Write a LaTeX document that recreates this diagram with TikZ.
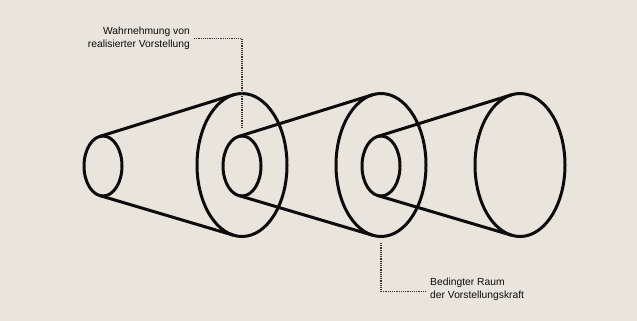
\documentclass[tikz,border=0pt]{standalone}
\usepackage{fontspec}
\setmainfont{Liberation Sans}
\usetikzlibrary{calc}
\usepackage{xcolor}
\definecolor{paper}{RGB}{233,229,220}
\definecolor{ink}{RGB}{12,12,12}
\definecolor{leadgray}{RGB}{50,50,50}

\begin{document}
\begin{tikzpicture}[x=1pt,y=-1pt,
    shape line/.style={draw=ink, line width=3pt},
    leader/.style={draw=leadgray, densely dotted, line width=1.2pt},
    note/.style={font=\fontsize{10.3}{13}\selectfont, text=ink, inner sep=4pt, align=left}]

        % Background
        \fill[paper] (0,0) rectangle (637,321);

        % Cones: small opening -> large opening
        \foreach \i/\sx/\bx in {1/103/242, 2/242/381, 3/381/520}
        {
            \coordinate (small\i) at (\sx,166);
            \coordinate (big\i) at (\bx,165);
            \draw[shape line] (small\i) ellipse [x radius=19, y radius=30];
            \draw[shape line] (big\i) ellipse [x radius=45, y radius=71.5];
            \draw[shape line] ($(small\i)+(259:19 and 30)$) -- ($(big\i)+(259:45 and 71.5)$);
            \draw[shape line] ($(small\i)+(101:19 and 30)$) -- ($(big\i)+(101:45 and 71.5)$);
        }

        % Upper label
        \node[note, align=right, anchor=east] (topnote) at (194,38.5)
            {Wahrnehmung von\\realisierter Vorstellung};
        \coordinate (tcorner) at (242,38.5);
        \coordinate (tend) at (242,127);
        \draw[leader] (topnote.east) -- (tcorner) -- (tend);

        % Lower label
        \node[note, anchor=west] (bottomnote) at (426,289.5)
            {Bedingter Raum\\der Vorstellungskraft};
        \coordinate (bstart) at (381,243);
        \coordinate (bcorner) at (381,291.5);
        \draw[leader] (bstart) -- (bcorner) -- (bottomnote.west |- bcorner);

    \end{tikzpicture}
\end{document}
